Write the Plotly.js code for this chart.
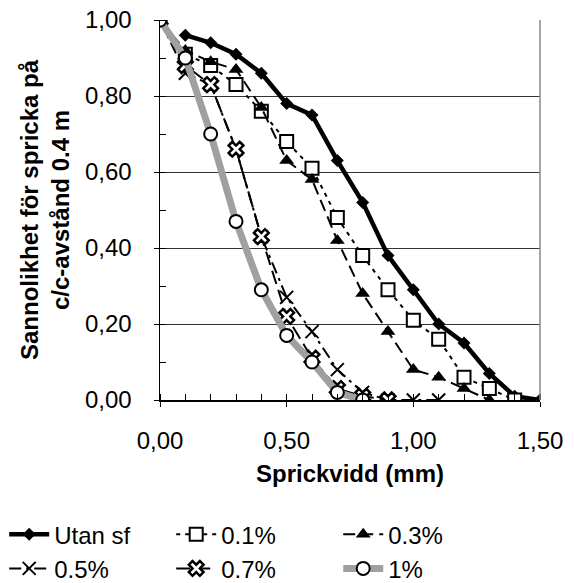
<!DOCTYPE html>
<html><head><meta charset="utf-8">
<script src="https://cdn.plot.ly/plotly-3.0.1.min.js"></script>
<style>body{margin:0;padding:0;background:#fff}#c{width:574px;height:583px}</style>
</head><body><div id="c"></div>
<script>
var xUtan = [0.1,0.2,0.3,0.4,0.5,0.6,0.7,0.8,0.9,1.0,1.1,1.2,1.3,1.4,1.5];
var yUtan = [0.96,0.94,0.91,0.86,0.78,0.75,0.63,0.52,0.38,0.29,0.20,0.15,0.07,0.01,0.00];
var x01 = [0,0.1,0.2,0.3,0.4,0.5,0.6,0.7,0.8,0.9,1.0,1.1,1.2,1.3,1.4];
var y01 = [1.00,0.91,0.88,0.83,0.76,0.68,0.61,0.48,0.38,0.29,0.21,0.16,0.06,0.03,0.00];
var x03 = [0,0.1,0.2,0.3,0.4,0.5,0.6,0.7,0.8,0.9,1.0,1.1,1.2,1.3];
var y03 = [1.00,0.92,0.89,0.87,0.77,0.63,0.58,0.42,0.28,0.18,0.08,0.06,0.03,0.00];
var x05 = [0,0.1,0.2,0.3,0.4,0.5,0.6,0.7,0.8,0.9,1.0,1.1];
var y05 = [1.00,0.86,0.83,0.66,0.43,0.27,0.18,0.08,0.02,0.00,0.00,0.00];
var x07 = [0,0.1,0.2,0.3,0.4,0.5,0.6,0.7,0.8,0.9];
var y07 = [1.00,0.88,0.83,0.66,0.43,0.22,0.11,0.03,0.01,0.00];
var x1 = [0,0.1,0.2,0.3,0.4,0.5,0.6,0.7,0.8];
var y1 = [1.00,0.90,0.70,0.47,0.29,0.17,0.10,0.02,0.00];
var names = ['Utan sf','0.1%','0.3%','0.5%','0.7%','1%'];

var traces = [
 {x:xUtan,y:yUtan,name:names[0],mode:'lines+markers',line:{color:'#000',width:4.5},marker:{symbol:'diamond',size:10,color:'#000'}},
 {x:x01,y:y01,name:names[1],mode:'lines+markers',line:{color:'#000',width:2,dash:'4px,5px'},marker:{symbol:'square',size:13,color:'#fff',line:{color:'#000',width:2}}},
 {x:x03,y:y03,name:names[2],mode:'lines+markers',line:{color:'#000',width:2,dash:'12px,6px'},marker:{symbol:'triangle-up',size:13,color:'#000'}},
 {x:x05,y:y05,name:names[3],mode:'lines+markers',line:{color:'#000',width:2,dash:'12px,5px,3px,5px'},marker:{symbol:'x-thin',size:13,color:'#000',line:{color:'#000',width:2}}},
 {x:x07,y:y07,name:names[4],mode:'lines+markers',line:{color:'#000',width:2,dash:'14px,6px'},marker:{symbol:'x',size:13,color:'#fff',line:{color:'#000',width:2.5}}},
 {x:x1,y:y1,name:names[5],mode:'lines+markers',line:{color:'#a0a0a0',width:7},marker:{symbol:'circle',size:13,color:'#fff',line:{color:'#000',width:2}}}
];

var layout = {
 width:574,height:583,
 margin:{l:160,r:34,t:20,b:183,autoexpand:false},
 paper_bgcolor:'#fff',plot_bgcolor:'#fff',
 separators:', ',
 font:{family:'Liberation Sans, Arial, sans-serif',size:24,color:'#000'},
 showlegend:true,
 xaxis:{range:[0,1.5],dtick:0.5,tickformat:'.2f',showgrid:false,zeroline:false,
   showline:true,linecolor:'#000',linewidth:1.5,ticks:'outside',ticklen:5,tickcolor:'#000',
   ticklabelstandoff:14,tickfont:{size:24},
   minor:{dtick:0.1,ticks:'inside',ticklen:6,tickcolor:'#000',showgrid:false},
   title:{text:'<b>Sprickvidd (mm)</b>',font:{size:24},standoff:12}},
 yaxis:{range:[0,1],dtick:0.2,tickformat:'.2f',showgrid:true,gridcolor:'#333',gridwidth:1,zeroline:false,
   showline:true,linecolor:'#000',linewidth:1.5,ticks:'outside',ticklen:5,tickcolor:'#000',
   ticklabelstandoff:17,tickfont:{size:24},
   minor:{dtick:0.1,ticks:'inside',ticklen:6,tickcolor:'#000',showgrid:false},
   title:{text:'<b>Sannolikhet för spricka på<br>c/c-avstånd 0.4 m</b>',font:{size:24},standoff:8}},
 shapes:[{type:'line',xref:'paper',yref:'paper',x0:1,x1:1,y0:0,y1:1,line:{color:'#888',width:1.5}}],
 legend:{orientation:'h',xref:'paper',yref:'paper',x:-0.41,y:-0.295,xanchor:'left',yanchor:'top',
   entrywidth:112,entrywidthmode:'pixels',font:{size:24},itemwidth:40,tracegroupgap:0,traceorder:'normal'}
};
Plotly.newPlot('c',traces,layout,{displayModeBar:false,staticPlot:true});
</script></body></html>
